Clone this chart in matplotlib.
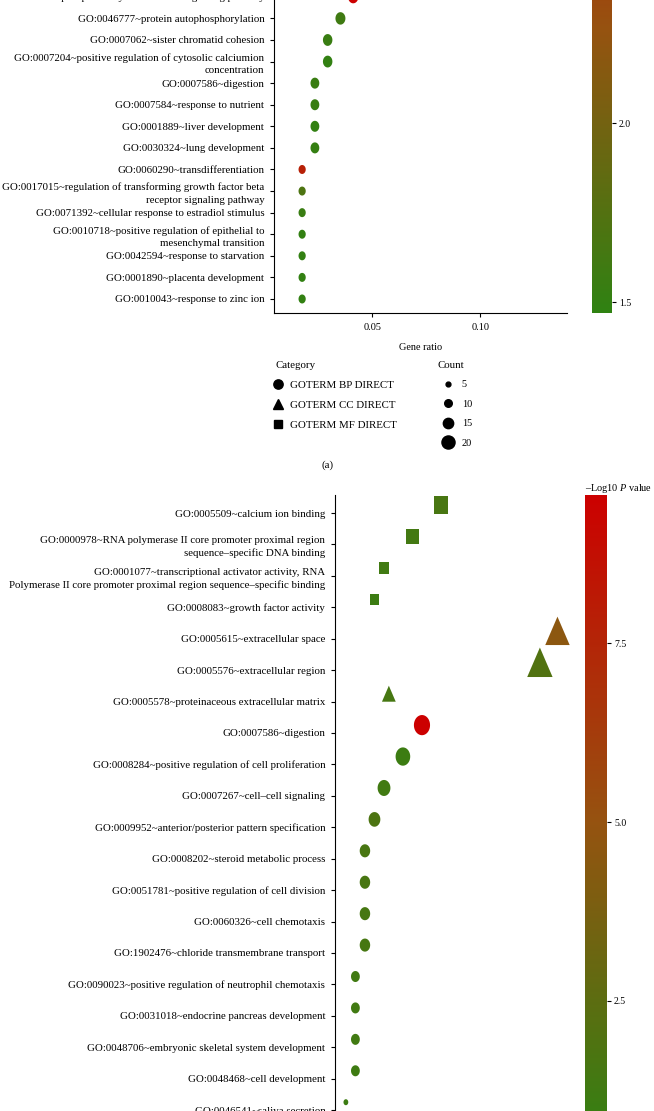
import numpy as np
import matplotlib.pyplot as plt
from matplotlib.path import Path
from matplotlib.colors import LinearSegmentedColormap, Normalize
from matplotlib.cm import ScalarMappable
from matplotlib.lines import Line2D

plt.rcParams['font.family'] = ['Liberation Serif', 'DejaVu Serif']
plt.rcParams['mathtext.fontset'] = 'custom'
plt.rcParams['mathtext.rm'] = 'Liberation Serif'
plt.rcParams['mathtext.it'] = 'Liberation Serif:italic'

# ---- panel (a) data, top to bottom (top row is cut by the crop) ----
terms_a = [
    "GO:0007169~transmembrane receptor protein tyrosine kinase signaling pathway",
    "GO:0046777~protein autophosphorylation",
    "GO:0007062~sister chromatid cohesion",
    "GO:0007204~positive regulation of cytosolic calciumion\nconcentration",
    "GO:0007586~digestion",
    "GO:0007584~response to nutrient",
    "GO:0001889~liver development",
    "GO:0030324~lung development",
    "GO:0060290~transdifferentiation",
    "GO:0017015~regulation of transforming growth factor beta\nreceptor signaling pathway",
    "GO:0071392~cellular response to estradiol stimulus",
    "GO:0010718~positive regulation of epithelial to\nmesenchymal transition",
    "GO:0042594~response to starvation",
    "GO:0001890~placenta development",
    "GO:0010043~response to zinc ion",
]
ratio_a = [0.0412, 0.0353, 0.0294, 0.0294, 0.0235, 0.0235, 0.0235, 0.0235,
           0.0176, 0.0176, 0.0176, 0.0176, 0.0176, 0.0176, 0.0176]
count_a = [7, 6, 5, 5, 4, 4, 4, 4, 3, 3, 3, 3, 3, 3, 3]
logp_a = [3.06, 1.60, 1.55, 1.50, 1.55, 1.55, 1.50, 1.52, 2.75, 1.70, 1.55,
          1.50, 1.50, 1.50, 1.50]
cat_a = ["BP"] * len(terms_a)

# ---- panel (b) data, top to bottom (bottom rows cut by the crop) ----
terms_b = [
    "GO:0005509~calcium ion binding",
    "GO:0000978~RNA polymerase II core promoter proximal region\nsequence–specific DNA binding",
    "GO:0001077~transcriptional activator activity, RNA\nPolymerase II core promoter proximal region sequence–specific binding",
    "GO:0008083~growth factor activity",
    "GO:0005615~extracellular space",
    "GO:0005576~extracellular region",
    "GO:0005578~proteinaceous extracellular matrix",
    "GO:0007586~digestion",
    "GO:0008284~positive regulation of cell proliferation",
    "GO:0007267~cell–cell signaling",
    "GO:0009952~anterior/posterior pattern specification",
    "GO:0008202~steroid metabolic process",
    "GO:0051781~positive regulation of cell division",
    "GO:0060326~cell chemotaxis",
    "GO:1902476~chloride transmembrane transport",
    "GO:0090023~positive regulation of neutrophil chemotaxis",
    "GO:0031018~endocrine pancreas development",
    "GO:0048706~embryonic skeletal system development",
    "GO:0048468~cell development",
    "GO:0046541~saliva secretion",
]
cat_b = ["MF", "MF", "MF", "MF", "CC", "CC", "CC"] + ["BP"] * 13
ratio_b = [0.0739, 0.0568, 0.0398, 0.0341, 0.1435, 0.1330, 0.0427, 0.0625,
           0.0511, 0.0398, 0.0341, 0.0284, 0.0284, 0.0284, 0.0284, 0.0227,
           0.0227, 0.0227, 0.0227, 0.0170]
count_b = [13, 10, 7, 6, 23, 25, 7, 11, 9, 7, 6, 5, 5, 5, 5, 4, 4, 4, 4, 3]
logp_b = [1.6, 1.4, 1.3, 1.1, 4.6, 2.0, 1.5, 9.57, 1.1, 1.3, 1.8, 1.6, 1.6,
          1.5, 1.5, 1.3, 1.3, 1.3, 1.2, 1.1]

legend_counts = [5, 10, 15, 20]

cmap = LinearSegmentedColormap.from_list("gr", ["#2F8212", "#965210", "#CC0000"])

# stretched marker shapes (the original figure was stretched vertically)
t = np.linspace(0, 2 * np.pi, 64)
shapes = {
    "BP": (Path(np.column_stack([0.8 * np.cos(t), np.sin(t)])), 1.0),
    "CC": (Path([(0, 1), (-0.86, -1), (0.86, -1), (0, 1)]), 1.0),
    "MF": (Path([(-0.8, -1), (0.8, -1), (0.8, 1), (-0.8, 1), (-0.8, -1)]), 0.8),
}


def marker_px(counts, dmin, dmax):
    c = np.asarray(counts, float)
    return dmin + (dmax - dmin) * np.sqrt((c - c.min()) / (c.max() - c.min()))


def draw_panel(ax, terms, cats, ratios, counts, logp, norm, dmin, dmax, shift):
    y = np.arange(len(terms))
    h = marker_px(counts, dmin, dmax)
    cats = np.array(cats)
    for key, (path, k) in shapes.items():
        m = cats == key
        if not m.any():
            continue
        ax.scatter(np.array(ratios)[m], y[m] - shift, s=(h[m] * k * 0.72) ** 2,
                   c=np.array(logp)[m], cmap=cmap, norm=norm, marker=path,
                   linewidths=0, zorder=3)
    ax.set_yticks(y)
    ax.set_yticklabels(terms, fontsize=7.8, linespacing=1.45)
    for side in ["top", "right"]:
        ax.spines[side].set_visible(False)
    ax.tick_params(axis="y", length=3, width=0.8, pad=4)
    ax.tick_params(axis="x", length=3, width=0.8, pad=4, labelsize=7.4)


fig = plt.figure(figsize=(6.54, 11.11), dpi=100)
W, H = 654, 1111

# panel (a)
ax_a = fig.add_axes([274 / W, 1 - 313 / H, 293 / W, 570 / H])
norm_a = Normalize(1.47, 3.06)
draw_panel(ax_a, terms_a, cat_a, ratio_a, count_a, logp_a, norm_a, 9, 13, 0)
ax_a.set_ylim(14.65, -11.76)
ax_a.set_xlim(0.0046, 0.140)
ax_a.set_xticks([0.05, 0.10])
ax_a.set_xticklabels(["0.05", "0.10"])
ax_a.set_xlabel("Gene ratio", fontsize=7.4, labelpad=8)

cax_a = fig.add_axes([592 / W, 1 - 313 / H, 20 / W, 570 / H])
cb_a = fig.colorbar(ScalarMappable(norm=norm_a, cmap=cmap), cax=cax_a)
cb_a.set_ticks([1.5, 2.0])
cb_a.outline.set_visible(False)
cax_a.tick_params(length=3, width=0.8, labelsize=7, pad=2)

# legends of panel (a)
cat_handles = [
    Line2D([], [], marker="o", color="black", linestyle="", markersize=6.7),
    Line2D([], [], marker="^", color="black", linestyle="", markersize=7.0),
    Line2D([], [], marker="s", color="black", linestyle="", markersize=5.8),
]
leg1 = fig.legend(cat_handles, ["GOTERM BP DIRECT", "GOTERM CC DIRECT", "GOTERM MF DIRECT"],
                  title="Category", loc="upper left", bbox_to_anchor=(275 / W, 1 - 361 / H),
                  frameon=False, fontsize=7.8, title_fontsize=7.8, alignment="left",
                  borderpad=0, borderaxespad=0, handlelength=0.6, handletextpad=0.75,
                  labelspacing=0.95)
cnt_handles = [Line2D([], [], marker="o", color="black", linestyle="",
                      markersize=(2.1 + 0.55 * c) * 0.72) for c in legend_counts]
leg2 = fig.legend(cnt_handles, [str(c) for c in legend_counts], title="Count",
                  loc="upper left", bbox_to_anchor=(438 / W, 1 - 361 / H),
                  frameon=False, fontsize=7.4, title_fontsize=7.8, alignment="left",
                  borderpad=0, borderaxespad=0, handlelength=2.0, handletextpad=0.3,
                  labelspacing=1.0)
fig.text(327 / W, 1 - 465 / H, "(a)", fontsize=7.8, ha="center", va="center")

# panel (b)
ax_b = fig.add_axes([335 / W, 1 - 1144 / H, 235 / W, 649 / H])
norm_b = Normalize(0.5, 9.57)
draw_panel(ax_b, terms_b, cat_b, ratio_b, count_b, logp_b, norm_b, 6, 29.5, 0.25)
ax_b.set_ylim(20.08, -0.573)
ax_b.set_xlim(0.0105, 0.151)
ax_b.set_xticks([0.05, 0.10])

cax_b = fig.add_axes([585 / W, 1 - 1144 / H, 22 / W, 649 / H])
cb_b = fig.colorbar(ScalarMappable(norm=norm_b, cmap=cmap), cax=cax_b)
cb_b.set_ticks([2.5, 5.0, 7.5])
cb_b.outline.set_visible(False)
cax_b.tick_params(length=3, width=0.8, labelsize=7, pad=2)
cax_b.set_title("–Log10 $P$ value", loc="left", fontsize=7.4, pad=3)

fig.savefig("out.png", dpi=100)
